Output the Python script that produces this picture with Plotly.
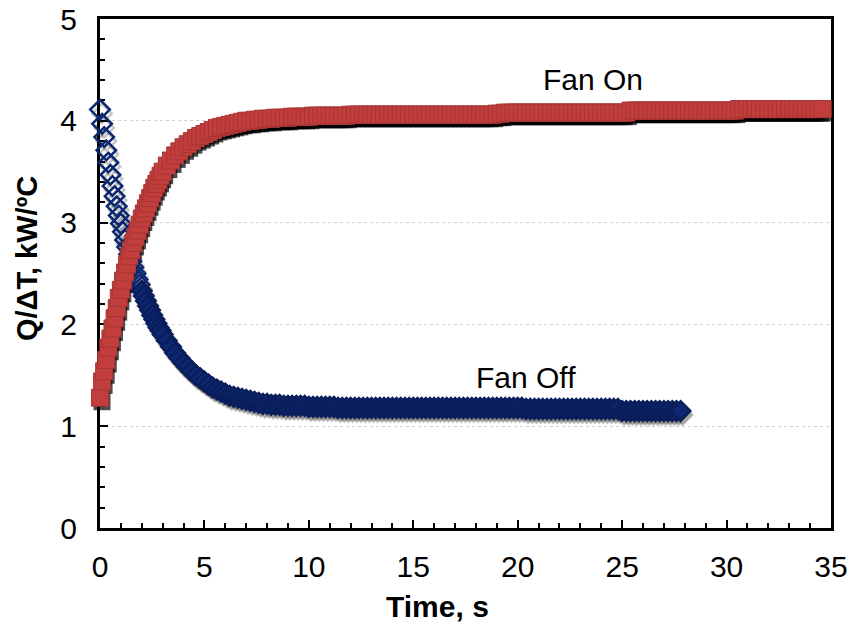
import numpy as np
import plotly.graph_objects as go

# ---------------- data ----------------
# sampling grid: 0-3 s every 0.1 s, then every 0.2 s
fan_on_t = np.round(np.concatenate([np.arange(0.0, 3.05, 0.1),
                                    np.arange(3.2, 34.65, 0.2)]), 2)
fan_on_q = [
    # 0.0 - 3.0 s
    1.28, 1.44, 1.54, 1.65, 1.77, 1.86, 1.96, 2.06, 2.16, 2.26,
    2.34, 2.43, 2.51, 2.59, 2.67, 2.73, 2.80, 2.86, 2.92, 2.98,
    3.04, 3.09, 3.14, 3.19, 3.24, 3.29, 3.34, 3.38, 3.42, 3.46, 3.50,
    # 3.2 - 5.0 s
    3.56, 3.61, 3.66, 3.70, 3.74, 3.77, 3.80, 3.83, 3.85, 3.87,
    # 5.2 - 7.0 s
    3.89, 3.91, 3.93, 3.94, 3.95, 3.96, 3.97, 3.98, 3.99, 4.00,
    # 7.2 - 9.0 s
    4.00, 4.01, 4.01, 4.02, 4.02, 4.02, 4.03, 4.03, 4.03, 4.03,
    # 9.2 - 11.0 s
    4.04, 4.04, 4.04, 4.04, 4.04, 4.05, 4.05, 4.05, 4.05, 4.05,
    # 11.2 - 13.0 s
    4.05, 4.05, 4.05, 4.05, 4.06, 4.06, 4.06, 4.06, 4.06, 4.06,
    # 13.2 - 15.0 s
    4.06, 4.06, 4.06, 4.06, 4.06, 4.06, 4.06, 4.06, 4.06, 4.06,
    # 15.2 - 17.0 s
    4.06, 4.06, 4.06, 4.06, 4.06, 4.06, 4.06, 4.06, 4.06, 4.06,
    # 17.2 - 19.0 s
    4.06, 4.06, 4.06, 4.06, 4.06, 4.06, 4.06, 4.06, 4.06, 4.07,
    # 19.2 - 21.0 s
    4.07, 4.08, 4.08, 4.08, 4.08, 4.08, 4.08, 4.08, 4.08, 4.08,
    # 21.2 - 23.0 s
    4.08, 4.08, 4.08, 4.08, 4.08, 4.08, 4.08, 4.08, 4.08, 4.08,
    # 23.2 - 25.0 s
    4.08, 4.08, 4.08, 4.08, 4.08, 4.08, 4.08, 4.08, 4.08, 4.08,
    # 25.2 - 27.0 s
    4.08, 4.10, 4.10, 4.10, 4.10, 4.10, 4.10, 4.10, 4.10, 4.10,
    # 27.2 - 29.0 s
    4.10, 4.10, 4.10, 4.10, 4.10, 4.10, 4.10, 4.10, 4.10, 4.10,
    # 29.2 - 31.0 s
    4.10, 4.10, 4.10, 4.10, 4.10, 4.10, 4.10, 4.115, 4.115, 4.115,
    # 31.2 - 33.0 s
    4.115, 4.115, 4.115, 4.115, 4.115, 4.115, 4.115, 4.115, 4.115, 4.115,
    # 33.2 - 34.6 s
    4.115, 4.115, 4.115, 4.115, 4.115, 4.115, 4.115, 4.115,
]

fan_off_t = np.round(np.concatenate([np.arange(0.0, 3.05, 0.1),
                                     np.arange(3.2, 27.85, 0.2)]), 2)
fan_off_q = [
    # 0.0 - 3.0 s
    4.11, 3.97, 3.84, 3.71, 3.59, 3.47, 3.36, 3.26, 3.16, 3.07,
    2.99, 2.91, 2.83, 2.76, 2.69, 2.62, 2.56, 2.50, 2.44, 2.39,
    2.33, 2.28, 2.23, 2.18, 2.14, 2.09, 2.05, 2.01, 1.97, 1.94, 1.90,
    # 3.2 - 5.0 s
    1.84, 1.78, 1.72, 1.67, 1.62, 1.58, 1.54, 1.50, 1.47, 1.44,
    # 5.2 - 7.0 s
    1.41, 1.38, 1.36, 1.34, 1.32, 1.30, 1.29, 1.28, 1.27, 1.26,
    # 7.2 - 9.0 s
    1.25, 1.24, 1.23, 1.22, 1.22, 1.21, 1.21, 1.21, 1.20, 1.20,
    # 9.2 - 11.0 s
    1.20, 1.20, 1.20, 1.20, 1.19, 1.19, 1.19, 1.19, 1.19, 1.19,
    # 11.2 - 13.0 s
    1.19, 1.18, 1.18, 1.18, 1.18, 1.18, 1.18, 1.18, 1.18, 1.18,
    # 13.2 - 15.0 s
    1.18, 1.18, 1.18, 1.18, 1.18, 1.18, 1.18, 1.18, 1.18, 1.18,
    # 15.2 - 17.0 s
    1.18, 1.18, 1.18, 1.18, 1.18, 1.18, 1.18, 1.18, 1.18, 1.18,
    # 17.2 - 19.0 s
    1.18, 1.18, 1.18, 1.18, 1.18, 1.18, 1.18, 1.18, 1.18, 1.18,
    # 19.2 - 21.0 s
    1.18, 1.18, 1.18, 1.18, 1.18, 1.18, 1.17, 1.17, 1.17, 1.17,
    # 21.2 - 23.0 s
    1.17, 1.17, 1.17, 1.17, 1.17, 1.17, 1.17, 1.17, 1.17, 1.17,
    # 23.2 - 25.0 s
    1.17, 1.17, 1.17, 1.17, 1.17, 1.17, 1.17, 1.17, 1.17, 1.15,
    # 25.2 - 27.0 s
    1.15, 1.15, 1.15, 1.15, 1.15, 1.15, 1.15, 1.15, 1.15, 1.15,
    # 27.2 - 27.8 s
    1.15, 1.15, 1.15, 1.15,
]

assert len(fan_on_t) == len(fan_on_q), (len(fan_on_t), len(fan_on_q))
assert len(fan_off_t) == len(fan_off_q), (len(fan_off_t), len(fan_off_q))

x_ticks = [0, 5, 10, 15, 20, 25, 30, 35]
y_ticks = [0, 1, 2, 3, 4, 5]
label_on = ("Fan On", 23.6, 4.41)
label_off = ("Fan Off", 20.4, 1.48)

# ---------------- styling ----------------
FONT = "Liberation Sans, Arial, sans-serif"
RED = "#C13E3D"
RED_EDGE = "#A83534"
NAVY = "#0D2870"
NAVY_FILL = "#0A1E5C"

W, H = 852, 626
L, T = 100, 19
PW, PH = 731, 509           # main plot area in px
DX, DY = 2, 4               # drop-shadow offset in px
R = W - L - PW - DX
B = H - T - PH - DY
FX = PW / (PW + DX)         # main x domain end
FY = DY / (PH + DY)         # main y domain start

# early, well separated diamonds are hollow; the dense tail reads as solid
off_symbols = ["diamond-open" if t < 2.0 else "diamond" for t in fan_off_t]
off_lines = [NAVY if t < 2.0 else NAVY_FILL for t in fan_off_t]

fig = go.Figure()

# drop shadows: same data drawn on a hidden axis pair shifted by a few px
fig.add_trace(go.Scatter(
    x=fan_off_t, y=fan_off_q, mode="markers", xaxis="x2", yaxis="y2",
    marker=dict(symbol=off_symbols, size=15, color="rgba(0,0,0,0.22)",
                line=dict(width=2.5, color="rgba(0,0,0,0.22)")),
    hoverinfo="skip", showlegend=False, cliponaxis=False))
fig.add_trace(go.Scatter(
    x=fan_on_t, y=fan_on_q, mode="markers", xaxis="x2", yaxis="y2",
    marker=dict(symbol="square", size=17, color="rgba(0,0,0,0.7)",
                line=dict(width=0)),
    hoverinfo="skip", showlegend=False, cliponaxis=False))

# data (on a hidden axis pair identical to the visible frame)
fig.add_trace(go.Scatter(
    x=fan_off_t, y=fan_off_q, mode="markers", name="Fan Off",
    xaxis="x3", yaxis="y3",
    marker=dict(symbol=off_symbols, size=15, color=NAVY,
                line=dict(width=2.5, color=off_lines)),
    showlegend=False, cliponaxis=False))
fig.add_trace(go.Scatter(
    x=fan_on_t, y=fan_on_q, mode="markers", name="Fan On",
    xaxis="x3", yaxis="y3",
    marker=dict(symbol="square", size=17, color=RED,
                line=dict(width=1, color=RED_EDGE)),
    showlegend=False, cliponaxis=False))

axis_common = dict(
    showline=True, linecolor="black", linewidth=3, mirror=True,
    ticks="inside", ticklen=8, tickwidth=2, tickcolor="black",
    tickfont=dict(family=FONT, size=30, color="black"),
    zeroline=False, automargin=False,
)
hidden = dict(visible=False, automargin=False, showgrid=False, zeroline=False)

fig.update_layout(
    width=W, height=H,
    margin=dict(l=L, r=R, t=T, b=B, autoexpand=False),
    paper_bgcolor="white", plot_bgcolor="rgba(0,0,0,0)",
    showlegend=False,
    xaxis=dict(range=[0, 35], domain=[0, FX], anchor="y",
               tickvals=x_ticks, ticklabelstandoff=10,
               minor=dict(ticks="inside", dtick=1, ticklen=5, tickwidth=2,
                          tickcolor="black", showgrid=False),
               showgrid=False, **axis_common),
    yaxis=dict(range=[0, 5], domain=[FY, 1], anchor="x",
               tickvals=y_ticks, ticklabelstandoff=14,
               minor=dict(ticks="inside", dtick=0.2, ticklen=5, tickwidth=2,
                          tickcolor="black", showgrid=False),
               showgrid=True, gridcolor="#D0D0D0", gridwidth=1, griddash="dot",
               **axis_common),
    xaxis2=dict(range=[0, 35], domain=[1 - FX, 1], anchor="y2", **hidden),
    yaxis2=dict(range=[0, 5], domain=[0, 1 - FY], anchor="x2", **hidden),
    xaxis3=dict(range=[0, 35], domain=[0, FX], anchor="y3", **hidden),
    yaxis3=dict(range=[0, 5], domain=[FY, 1], anchor="x3", **hidden),
)

# axis titles
fig.add_annotation(text="<b>Time, s</b>", xref="paper", yref="paper",
                   x=(437 - L) / (PW + DX), y=(T + PH + DY - 606) / (PH + DY),
                   xanchor="center", yanchor="middle", showarrow=False,
                   font=dict(family=FONT, size=30, color="black"))
fig.add_annotation(text="<b>Q/ΔT, kW/ºC</b>", xref="paper", yref="paper",
                   x=(27 - L) / (PW + DX), y=(T + PH + DY - 259) / (PH + DY),
                   textangle=-90, xanchor="center", yanchor="middle",
                   showarrow=False,
                   font=dict(family=FONT, size=29, color="black"))

# series labels
for txt, lx, ly in (label_on, label_off):
    fig.add_annotation(text=txt, x=lx, y=ly, xref="x", yref="y",
                       showarrow=False, xanchor="center", yanchor="middle",
                       font=dict(family=FONT, size=30, color="black"))

fig.write_html("out.html",
               config={"displayModeBar": False},
               post_script="document.body.style.margin='0';")
